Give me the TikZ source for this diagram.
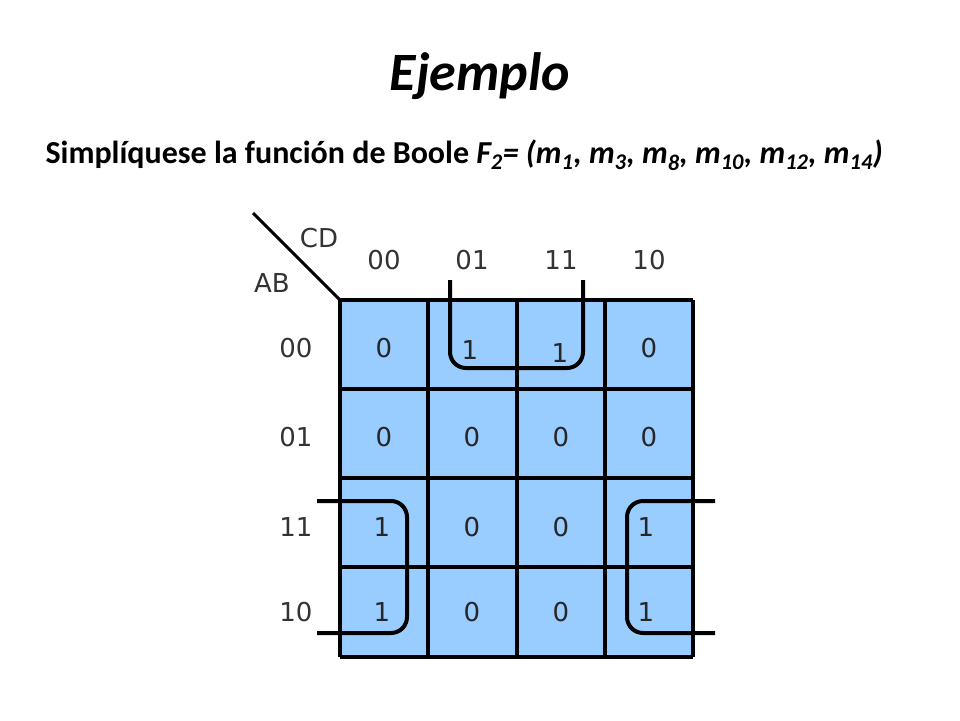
\documentclass[tikz,border=0pt]{standalone}
\usepackage{fontspec}
\setmainfont{Carlito}
\setsansfont{DejaVu Sans}
\begin{document}
\begin{tikzpicture}[x=1pt,y=-1pt,
  grid/.style={line width=4pt},
  loop/.style={line width=4pt,rounded corners=16pt},
  lab/.style={font=\sffamily\fontsize{26}{26}\selectfont,text=black!80},
  dig/.style={font=\sffamily\fontsize{26}{26}\selectfont,text=black!85}]
\useasboundingbox (0,0) rectangle (960,720);
\node (title) at (480,76) {\fontsize{54}{54}\selectfont\bfseries\itshape Ejemplo};
\node[anchor=west] (sub) at (42,155) {\fontsize{32}{32}\selectfont\bfseries Simplíquese la función de Boole \textit{F\textsubscript{2}= (m\textsubscript{1}, m\textsubscript{3}, m\textsubscript{8}, m\textsubscript{10}, m\textsubscript{12}, m\textsubscript{14})}};
\fill[fill={rgb,255:red,153;green,204;blue,255}] (340,300) rectangle (693,657);
\foreach \x in {340,428,517,605,693} \draw[grid] (\x,300) -- (\x,657);
\foreach \y in {300,389,478,567,657} \draw[grid] (340,\y) -- (693,\y);
\draw[line width=3pt] (253,213) -- (340,300);
\node[lab] (cd) at (319,238) {CD};
\node[lab] (ab) at (272,283) {AB};
\foreach \t/\x in {00/384,01/472,11/561,10/649} \node[lab] at (\x,260) {\t};
\foreach \t/\y in {00/348,01/437,11/527,10/612} \node[lab] at (296,\y) {\t};
\foreach \v/\x/\y [count=\i] in {0/384/348,1/470/350,1/560/353,0/649/348,
  0/384/437,0/472/437,0/561/437,0/649/437,
  1/382/527,0/472/527,0/561/527,1/646/527,
  1/382/612,0/472/612,0/561/612,1/646/612}
  \node[dig] (c\i) at (\x,\y) {\v};
\draw[loop] (450,280) -- (450,368) -- (583,368) -- (583,280);
\draw[loop] (317,501) -- (407,501) -- (407,633) -- (317,633);
\draw[loop] (715,501) -- (627,501) -- (627,633) -- (715,633);
\end{tikzpicture}
\end{document}
